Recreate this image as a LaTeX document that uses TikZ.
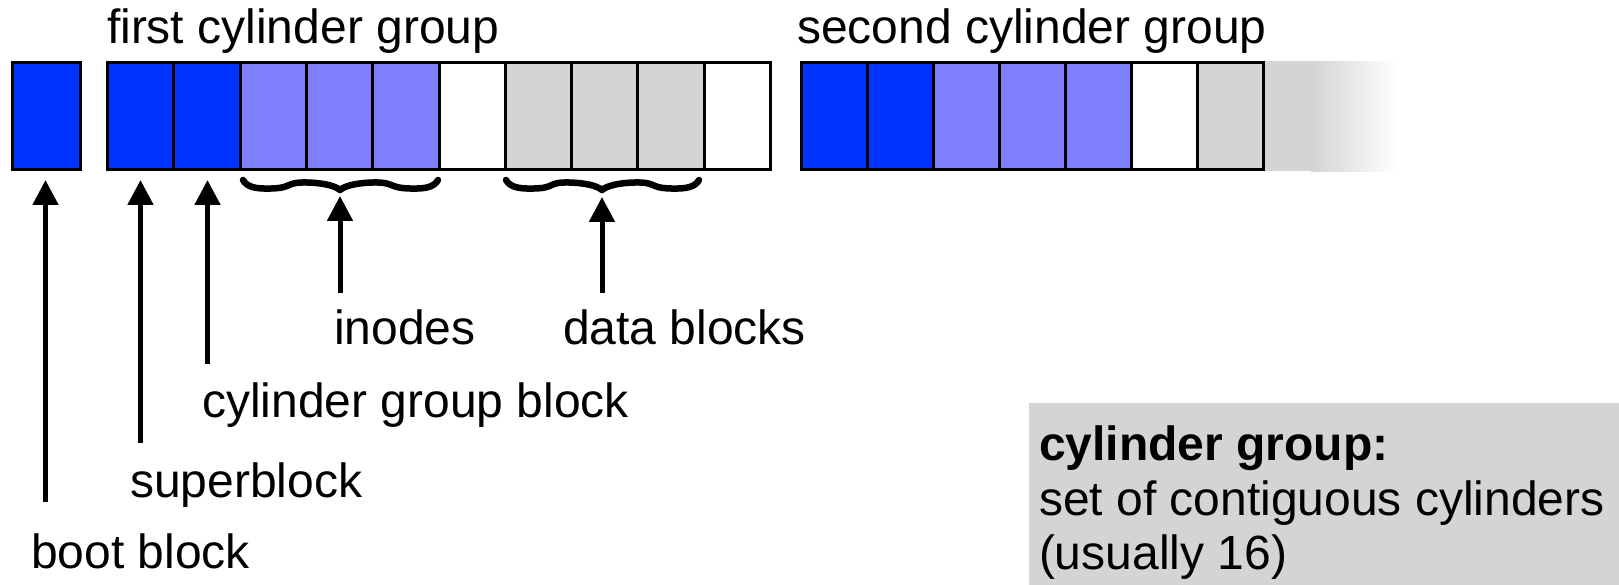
\documentclass[tikz,border=0pt]{standalone}
\usepackage{fontspec}
\setmainfont{Liberation Sans}
\usetikzlibrary{arrows.meta}
\definecolor{dblue}{RGB}{0,51,255}
\definecolor{lblue}{RGB}{128,128,255}
\definecolor{lgray}{RGB}{212,212,212}
\begin{document}
\begin{tikzpicture}[x=1pt,y=-1pt,
  cell/.style={draw=black, line width=3pt, rectangle, inner sep=0pt, outer sep=0pt, minimum height=107pt},
  lbl/.style={anchor=base west, inner sep=0pt, outer sep=0pt, font=\fontsize{48}{54}\selectfont},
  arr/.style={line width=5pt, -{Triangle[length=25pt,width=25pt]}},
  bracestroke/.style={line width=6.5pt, line cap=round, line join=round}]
\useasboundingbox (0,0) rectangle (1619,585);
% info box
\node[fill=lgray, anchor=north west, inner sep=0pt, minimum width=590pt, minimum height=182pt] (info) at (1029,403) {};
\node[lbl, font=\fontsize{48}{54}\selectfont\bfseries] (info1) at (1039,460) {cylinder group:};
\node[lbl] (info2) at (1039,515) {set of contiguous cylinders};
\node[lbl] (info3) at (1039,569) {(usually 16)};
% titles
\node[lbl] (t1) at (107,44) {first cylinder group};
\node[lbl] (t2) at (797,44) {second cylinder group};
% fade after second group
\fill[lgray] (1262,61.5) rectangle (1312,171.5);
\shade[left color=lgray, right color=white] (1311,61.5) rectangle (1398,171.5);
% boot block
\node[cell, fill=dblue, minimum width=68pt] (boot) at (46,116.5) {};
% first group
\foreach \c [count=\i from 0] in {dblue,dblue,lblue,lblue,lblue,white,lgray,lgray,lgray,white}{
  \node[cell, fill=\c, minimum width=66.3pt] (a\i) at ({107.5+66.3*(\i+0.5)},116.5) {};
}
% second group
\foreach \c [count=\i from 0] in {dblue,dblue,lblue,lblue,lblue,white,lgray}{
  \node[cell, fill=\c, minimum width=66pt] (s\i) at ({801+66*(\i+0.5)},116.5) {};
}
% braces
\foreach \xa/\xm/\xb in {243/340/438, 506/602/699}{
  \draw[bracestroke] (\xa,180) .. controls (\xa+4,187) and (\xa+12,189) .. (\xa+28,188.5)
    .. controls (\xa+50,188) and (\xm-55,182) .. (\xm-33,182.5)
    .. controls (\xm-15,183) and (\xm-5,186) .. (\xm,190)
    .. controls (\xm+5,186) and (\xm+15,183) .. (\xm+33,182.5)
    .. controls (\xm+55,182) and (\xb-50,188) .. (\xb-28,188.5)
    .. controls (\xb-12,189) and (\xb-4,187) .. (\xb,180);
}
% labels
\node[lbl] (lboot) at (31,568) {boot block};
\node[lbl] (lsuper) at (130,497) {superblock};
\node[lbl] (lcgb) at (202,417) {cylinder group block};
\node[lbl] (lino) at (334,344) {inodes};
\node[lbl] (ldata) at (563,344) {data blocks};
% arrow end points
\coordinate (bootT) at (45.5,502);
\coordinate (bootH) at (45.5,180);
\coordinate (supT) at (140.5,443);
\coordinate (supH) at (140.5,180);
\coordinate (cgbT) at (207.5,364);
\coordinate (cgbH) at (207.5,180);
\coordinate (inoT) at (340,293);
\coordinate (inoH) at (340,196);
\coordinate (datT) at (602,293);
\coordinate (datH) at (602,197);
\draw[arr] (bootT) -- (bootH);
\draw[arr] (supT) -- (supH);
\draw[arr] (cgbT) -- (cgbH);
\draw[arr] (inoT) -- (inoH);
\draw[arr] (datT) -- (datH);
\end{tikzpicture}
\end{document}
